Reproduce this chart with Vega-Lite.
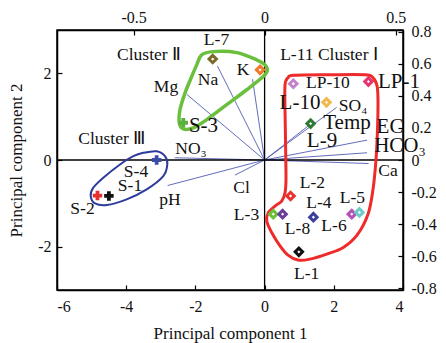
{
  "$schema": "https://vega.github.io/schema/vega-lite/v6.json",
  "width": 346,
  "height": 260,
  "autosize": "none",
  "padding": {"left": 57, "top": 30, "right": 43, "bottom": 53},
  "background": "white",
  "config": {
    "view": {"stroke": "black", "strokeWidth": 1.5},
    "font": "Liberation Serif, Times New Roman, serif",
    "axis": {
      "labelFont": "Liberation Serif, Times New Roman, serif",
      "labelFontSize": 16,
      "labelColor": "#111111",
      "titleFont": "Liberation Serif, Times New Roman, serif",
      "titleFontSize": 17,
      "titleFontWeight": "normal",
      "titleColor": "#111111",
      "domainColor": "black",
      "domainWidth": 1.5,
      "tickColor": "black",
      "tickWidth": 1.2,
      "tickSize": -5,
      "grid": false
    }
  },
  "datasets": {
    "origin": [{"x": 0, "y": 0}],
    "vectors": [
      {"var": "Mg", "x": -0.297, "y": 0.409},
      {"var": "Na", "x": -0.180, "y": 0.586},
      {"var": "K", "x": -0.046, "y": 0.503},
      {"var": "NO3", "x": -0.343, "y": 0.014},
      {"var": "pH", "x": -0.370, "y": -0.159},
      {"var": "Cl", "x": -0.113, "y": -0.094},
      {"var": "SO4", "x": 0.275, "y": 0.328},
      {"var": "Temp", "x": 0.174, "y": 0.222},
      {"var": "EC", "x": 0.391, "y": 0.124},
      {"var": "HCO3", "x": 0.391, "y": 0.045},
      {"var": "Ca", "x": 0.397, "y": -0.022}
    ],
    "points": [
      {"sample": "L-7", "group": "L", "x": -1.5, "y": 2.33},
      {"sample": "L-11", "group": "L", "x": -0.13, "y": 2.08},
      {"sample": "LP-10", "group": "L", "x": 0.83, "y": 1.76},
      {"sample": "LP-1", "group": "L", "x": 3.0, "y": 1.81},
      {"sample": "L-10", "group": "L", "x": 1.79, "y": 1.33},
      {"sample": "L-9", "group": "L", "x": 1.33, "y": 0.84},
      {"sample": "L-2", "group": "L", "x": 0.75, "y": -0.83},
      {"sample": "L-3", "group": "L", "x": 0.25, "y": -1.25},
      {"sample": "L-8", "group": "L", "x": 0.52, "y": -1.25},
      {"sample": "L-4", "group": "L", "x": 1.41, "y": -1.32},
      {"sample": "L-6", "group": "L", "x": 2.52, "y": -1.25},
      {"sample": "L-5", "group": "L", "x": 2.74, "y": -1.21},
      {"sample": "L-1", "group": "L", "x": 0.99, "y": -2.12},
      {"sample": "S-3", "group": "S", "x": -2.35, "y": 0.86},
      {"sample": "S-4", "group": "S", "x": -3.12, "y": 0.0},
      {"sample": "S-2", "group": "S", "x": -4.83, "y": -0.82},
      {"sample": "S-1", "group": "S", "x": -4.5, "y": -0.83}
    ],
    "outlines": [
      {"cluster": "II", "ord": 1, "x": -1.818, "y": 2.425},
      {"cluster": "II", "ord": 2, "x": -1.483, "y": 2.501},
      {"cluster": "II", "ord": 3, "x": -0.806, "y": 2.478},
      {"cluster": "II", "ord": 4, "x": -0.228, "y": 2.310},
      {"cluster": "II", "ord": 5, "x": 0.012, "y": 2.195},
      {"cluster": "II", "ord": 6, "x": 0.078, "y": 2.064},
      {"cluster": "II", "ord": 7, "x": -0.038, "y": 1.926},
      {"cluster": "II", "ord": 8, "x": -0.517, "y": 1.621},
      {"cluster": "II", "ord": 9, "x": -1.095, "y": 1.276},
      {"cluster": "II", "ord": 10, "x": -1.673, "y": 0.931},
      {"cluster": "II", "ord": 11, "x": -2.061, "y": 0.740},
      {"cluster": "II", "ord": 12, "x": -2.350, "y": 0.717},
      {"cluster": "II", "ord": 13, "x": -2.465, "y": 0.855},
      {"cluster": "II", "ord": 14, "x": -2.445, "y": 1.161},
      {"cluster": "II", "ord": 15, "x": -2.301, "y": 1.545},
      {"cluster": "II", "ord": 16, "x": -2.107, "y": 1.926},
      {"cluster": "II", "ord": 17, "x": -1.962, "y": 2.195},
      {"cluster": "I", "ord": 1, "x": 0.590, "y": 1.736},
      {"cluster": "I", "ord": 2, "x": 0.676, "y": 1.897},
      {"cluster": "I", "ord": 3, "x": 0.850, "y": 1.954},
      {"cluster": "I", "ord": 4, "x": 1.890, "y": 1.966},
      {"cluster": "I", "ord": 5, "x": 2.902, "y": 1.966},
      {"cluster": "I", "ord": 6, "x": 3.133, "y": 1.897},
      {"cluster": "I", "ord": 7, "x": 3.249, "y": 1.713},
      {"cluster": "I", "ord": 8, "x": 3.277, "y": 1.391},
      {"cluster": "I", "ord": 9, "x": 3.263, "y": 0.701},
      {"cluster": "I", "ord": 10, "x": 3.220, "y": 0.011},
      {"cluster": "I", "ord": 11, "x": 3.133, "y": -0.678},
      {"cluster": "I", "ord": 12, "x": 2.988, "y": -1.253},
      {"cluster": "I", "ord": 13, "x": 2.671, "y": -1.736},
      {"cluster": "I", "ord": 14, "x": 2.275, "y": -2.018},
      {"cluster": "I", "ord": 15, "x": 1.795, "y": -2.172},
      {"cluster": "I", "ord": 16, "x": 1.312, "y": -2.287},
      {"cluster": "I", "ord": 17, "x": 0.965, "y": -2.310},
      {"cluster": "I", "ord": 18, "x": 0.676, "y": -2.195},
      {"cluster": "I", "ord": 19, "x": 0.445, "y": -1.982},
      {"cluster": "I", "ord": 20, "x": 0.205, "y": -1.674},
      {"cluster": "I", "ord": 21, "x": 0.061, "y": -1.407},
      {"cluster": "I", "ord": 22, "x": 0.107, "y": -1.214},
      {"cluster": "I", "ord": 23, "x": 0.301, "y": -1.062},
      {"cluster": "I", "ord": 24, "x": 0.494, "y": -0.947},
      {"cluster": "I", "ord": 25, "x": 0.590, "y": -0.754},
      {"cluster": "I", "ord": 26, "x": 0.618, "y": -0.448},
      {"cluster": "I", "ord": 27, "x": 0.604, "y": 0.471},
      {"cluster": "I", "ord": 28, "x": 0.590, "y": 1.161},
      {"cluster": "III", "ord": 1, "x": -3.506, "y": 0.166},
      {"cluster": "III", "ord": 2, "x": -3.118, "y": 0.202},
      {"cluster": "III", "ord": 3, "x": -2.879, "y": 0.087},
      {"cluster": "III", "ord": 4, "x": -2.812, "y": -0.103},
      {"cluster": "III", "ord": 5, "x": -2.928, "y": -0.372},
      {"cluster": "III", "ord": 6, "x": -3.408, "y": -0.678},
      {"cluster": "III", "ord": 7, "x": -3.986, "y": -0.908},
      {"cluster": "III", "ord": 8, "x": -4.564, "y": -1.039},
      {"cluster": "III", "ord": 9, "x": -4.902, "y": -1.000},
      {"cluster": "III", "ord": 10, "x": -5.026, "y": -0.832},
      {"cluster": "III", "ord": 11, "x": -4.951, "y": -0.639},
      {"cluster": "III", "ord": 12, "x": -4.662, "y": -0.409},
      {"cluster": "III", "ord": 13, "x": -4.179, "y": -0.103},
      {"cluster": "III", "ord": 14, "x": -3.795, "y": 0.087}
    ],
    "labels": [
      {"text": "Cluster Ⅱ", "emph": false, "x": -3.341, "y": 2.425},
      {"text": "L-7", "emph": false, "x": -1.39, "y": 2.77},
      {"text": "Na", "emph": false, "x": -1.636, "y": 1.851},
      {"text": "Mg", "emph": false, "x": -2.85, "y": 1.69},
      {"text": "K", "emph": false, "x": -0.624, "y": 2.08},
      {"text": "L-11 Cluster Ⅰ", "emph": false, "x": 1.861, "y": 2.425},
      {"text": "LP-10", "emph": false, "x": 1.832, "y": 1.782},
      {"text": "LP-1", "emph": true, "x": 3.884, "y": 1.805},
      {"text": "L-10", "emph": true, "x": 1.023, "y": 1.322},
      {"text": "SO₄", "emph": false, "x": 2.555, "y": 1.253},
      {"text": "Temp", "emph": true, "x": 2.382, "y": 0.851},
      {"text": "L-9", "emph": true, "x": 1.659, "y": 0.448},
      {"text": "EC", "emph": true, "x": 3.624, "y": 0.77},
      {"text": "HCO₃", "emph": true, "x": 3.913, "y": 0.333},
      {"text": "Ca", "emph": false, "x": 3.566, "y": -0.264},
      {"text": "Cluster Ⅲ", "emph": false, "x": -4.419, "y": 0.487},
      {"text": "NO₃", "emph": false, "x": -2.127, "y": 0.264},
      {"text": "S-3", "emph": true, "x": -1.766, "y": 0.782},
      {"text": "S-4", "emph": false, "x": -3.717, "y": -0.287},
      {"text": "S-1", "emph": false, "x": -3.89, "y": -0.609},
      {"text": "S-2", "emph": false, "x": -5.263, "y": -1.126},
      {"text": "pH", "emph": false, "x": -2.734, "y": -0.931},
      {"text": "Cl", "emph": false, "x": -0.668, "y": -0.655},
      {"text": "L-3", "emph": false, "x": -0.523, "y": -1.276},
      {"text": "L-2", "emph": false, "x": 1.384, "y": -0.54},
      {"text": "L-4", "emph": false, "x": 1.572, "y": -1.0},
      {"text": "L-5", "emph": false, "x": 2.54, "y": -0.869},
      {"text": "L-8", "emph": false, "x": 0.951, "y": -1.582},
      {"text": "L-6", "emph": false, "x": 2.006, "y": -1.522},
      {"text": "L-1", "emph": false, "x": 1.217, "y": -2.632}
    ]
  },
  "layer": [
    {
      "data": {"name": "vectors"},
      "mark": {"type": "rule", "color": "#3a47a8", "strokeWidth": 0.8},
      "encoding": {
        "x": {"field": "x", "type": "quantitative",
          "scale": {"domain": [-0.792, 0.528], "nice": false, "zero": false},
          "axis": {"orient": "top", "title": null, "values": [-0.5, 0, 0.5], "format": "~g", "labelExpr": "replace(datum.label, '\u2212', '-')", "labelPadding": 10}},
        "y": {"field": "y", "type": "quantitative",
          "scale": {"domain": [-0.81, 0.81], "nice": false, "zero": false},
          "axis": {"orient": "right", "title": null, "values": [-0.8, -0.6, -0.4, -0.2, 0, 0.2, 0.4, 0.6, 0.8], "format": "~g", "labelExpr": "replace(datum.label, '\u2212', '-')", "labelPadding": 13}},
        "x2": {"datum": 0},
        "y2": {"datum": 0}
      }
    },
    {
      "layer": [
        {
          "data": {"name": "origin"},
          "mark": {"type": "rule", "color": "black", "strokeWidth": 1.3},
          "encoding": {"x": {"field": "x", "type": "quantitative"}}
        },
        {
          "data": {"name": "origin"},
          "mark": {"type": "rule", "color": "black", "strokeWidth": 1.3},
          "encoding": {"y": {"field": "y", "type": "quantitative"}}
        },
        {
          "data": {"name": "outlines"},
          "transform": [{"filter": "datum.cluster === 'II'"}],
          "mark": {"type": "line", "interpolate": "cardinal-closed", "color": "#6abf3c", "strokeWidth": 3.5},
          "encoding": {"x": {"field": "x", "type": "quantitative"}, "y": {"field": "y", "type": "quantitative"}, "order": {"field": "ord", "type": "quantitative"}}
        },
        {
          "data": {"name": "outlines"},
          "transform": [{"filter": "datum.cluster === 'I'"}],
          "mark": {"type": "line", "interpolate": "cardinal-closed", "color": "#ee2a2a", "strokeWidth": 3},
          "encoding": {"x": {"field": "x", "type": "quantitative"}, "y": {"field": "y", "type": "quantitative"}, "order": {"field": "ord", "type": "quantitative"}}
        },
        {
          "data": {"name": "outlines"},
          "transform": [{"filter": "datum.cluster === 'III'"}],
          "mark": {"type": "line", "interpolate": "cardinal-closed", "color": "#2e3b9c", "strokeWidth": 2},
          "encoding": {"x": {"field": "x", "type": "quantitative"}, "y": {"field": "y", "type": "quantitative"}, "order": {"field": "ord", "type": "quantitative"}}
        },
        {
          "data": {"name": "points"},
          "transform": [{"filter": "datum.group === 'L'"}],
          "mark": {"type": "point", "shape": "diamond", "filled": false, "strokeWidth": 3, "size": 55, "opacity": 1},
          "encoding": {
            "x": {"field": "x", "type": "quantitative",
              "scale": {"domain": [-6, 4], "nice": false, "zero": false},
              "axis": {"orient": "bottom", "title": "Principal component 1", "values": [-6, -4, -2, 0, 2, 4], "labelExpr": "replace(datum.label, '\u2212', '-')", "labelPadding": 13, "titlePadding": 11}},
            "y": {"field": "y", "type": "quantitative",
              "scale": {"domain": [-3, 3], "nice": false, "zero": false},
              "axis": {"orient": "left", "title": "Principal component 2", "values": [-2, 0, 2], "labelExpr": "replace(datum.label, '\u2212', '-')", "labelPadding": 11, "titlePadding": 12}},
            "color": {"field": "sample", "type": "nominal", "legend": null,
              "scale": {
                "domain": ["L-7", "L-11", "LP-10", "LP-1", "L-10", "L-9", "L-2", "L-3", "L-8", "L-4", "L-6", "L-5", "L-1", "S-3", "S-4", "S-2", "S-1"],
                "range": ["#7d6a2a", "#f07a2a", "#c483c8", "#e8346f", "#f2b84b", "#2f7a34", "#e8322e", "#6cc03a", "#6a3d9a", "#3a3f9c", "#b552b8", "#6ccbcb", "#111111", "#5cb040", "#3a4ca8", "#e83030", "#111111"]
              }}
          }
        },
        {
          "data": {"name": "points"},
          "transform": [{"filter": "datum.group === 'S'"}],
          "mark": {"type": "point", "shape": "cross", "filled": true, "size": 90, "opacity": 1},
          "encoding": {
            "x": {"field": "x", "type": "quantitative"}, "y": {"field": "y", "type": "quantitative"},
            "color": {"field": "sample", "type": "nominal", "legend": null}
          }
        },
        {
          "data": {"name": "labels"},
          "transform": [{"filter": "!datum.emph"}],
          "mark": {"type": "text", "font": "Liberation Serif, Times New Roman, serif", "fontSize": 17.5, "color": "#111111", "align": "center", "baseline": "middle"},
          "encoding": {"x": {"field": "x", "type": "quantitative"}, "y": {"field": "y", "type": "quantitative"}, "text": {"field": "text"}}
        },
        {
          "data": {"name": "labels"},
          "transform": [{"filter": "datum.emph"}],
          "mark": {"type": "text", "font": "Liberation Serif, Times New Roman, serif", "fontSize": 21, "color": "#111111", "align": "center", "baseline": "middle"},
          "encoding": {"x": {"field": "x", "type": "quantitative"}, "y": {"field": "y", "type": "quantitative"}, "text": {"field": "text"}}
        }
      ]
    }
  ],
  "resolve": {"scale": {"x": "independent", "y": "independent"}}
}
